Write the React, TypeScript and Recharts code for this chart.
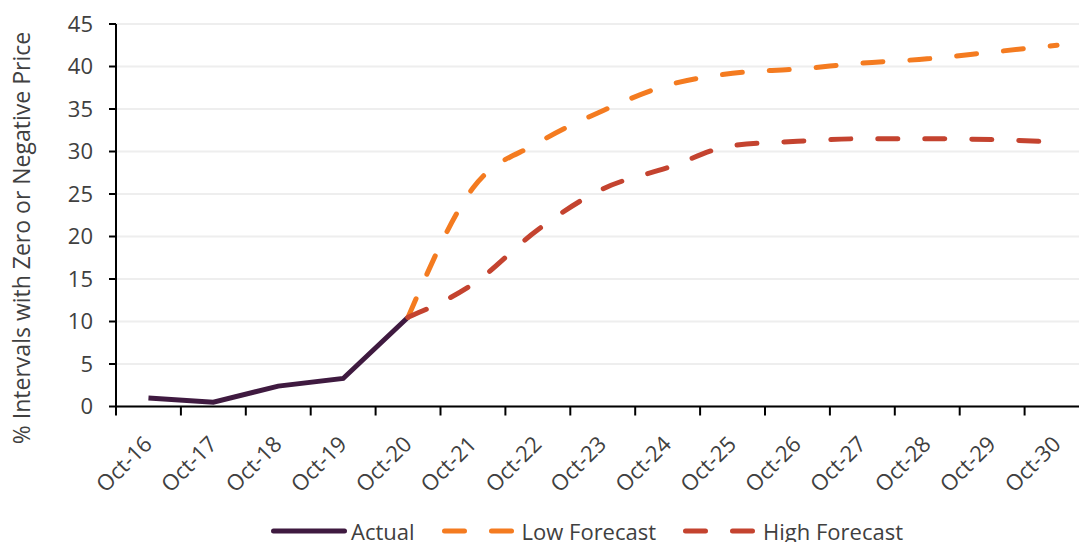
import React from "react";
import { CartesianGrid, Legend, Line, LineChart, XAxis, YAxis } from "recharts";

const categories = [
  "Oct-16", "Oct-17", "Oct-18", "Oct-19", "Oct-20", "Oct-21", "Oct-22", "Oct-23",
  "Oct-24", "Oct-25", "Oct-26", "Oct-27", "Oct-28", "Oct-29", "Oct-30",
];
const actual = [1.0, 0.5, 2.4, 3.3, 10.5, null, null, null, null, null, null, null, null, null, null];
const lowForecast = [null, null, null, null, 10.5, 25.7, 31.0, 34.8, 37.8, 39.2, 39.7, 40.4, 40.9, 41.7, 42.5];
const highForecast = [null, null, null, null, 10.5, 14.4, 20.8, 25.6, 28.1, 30.7, 31.2, 31.5, 31.5, 31.4, 31.1];
const yTicks = [0, 5, 10, 15, 20, 25, 30, 35, 40, 45];

const data = categories.map((name, i) => ({
  name,
  actual: actual[i],
  low: lowForecast[i],
  high: highForecast[i],
}));

const FONT = '"Open Sans", sans-serif';
const TEXT = "#404040";
const COLORS = { actual: "#3f1a40", low: "#f47b20", high: "#c4432f" };
const DASH = "20 27";

const W = 1100;
const H = 542;
const M = { top: 24, right: 10.5, left: 0, bottom: 0 };
const Y_W = 116;
const X_H = 135.5;
const BAND = (W - M.right - M.left - Y_W) / categories.length;

function XTick(props: any) {
  const { x, y, payload, index } = props;
  const tx = x + 5;
  const ty = y + 39;
  return (
    <g>
      <line x1={x - BAND / 2} x2={x - BAND / 2} y1={y} y2={y + 9} stroke="#000" strokeWidth={2} />
      {index === categories.length - 1 && (
        <line x1={x + BAND / 2} x2={x + BAND / 2} y1={y} y2={y + 9} stroke="#000" strokeWidth={2} />
      )}
      <text
        x={tx}
        y={ty}
        transform={`rotate(-45 ${tx} ${ty})`}
        textAnchor="end"
        fill={TEXT}
        fontSize={22}
        fontFamily={FONT}
      >
        {payload.value}
      </text>
    </g>
  );
}

const legendItems = [
  { key: "actual", label: "Actual", color: COLORS.actual, dash: undefined },
  { key: "low", label: "Low Forecast", color: COLORS.low, dash: DASH },
  { key: "high", label: "High Forecast", color: COLORS.high, dash: DASH },
];

function LegendContent() {
  return (
    <div style={{ display: "flex", alignItems: "center", fontFamily: FONT, fontSize: 22, color: TEXT, whiteSpace: "nowrap" }}>
      {legendItems.map((it) => (
        <div key={it.key} style={{ display: "flex", alignItems: "center", marginRight: 27 }}>
          <svg width={76} height={12} style={{ marginRight: 4 }}>
            <line
              x1={2.5}
              x2={73.5}
              y1={6}
              y2={6}
              stroke={it.color}
              strokeWidth={5}
              strokeLinecap="round"
              strokeDasharray={it.dash}
            />
          </svg>
          <span>{it.label}</span>
        </div>
      ))}
    </div>
  );
}

export default function App() {
  return (
    <div style={{ position: "absolute", left: 0, top: 0, width: 1079, height: 542, overflow: "hidden", background: "#fff" }}>
      <LineChart width={W} height={H} data={data} margin={M}>
        <CartesianGrid vertical={false} stroke="#eeeeee" strokeWidth={2} />
        <XAxis
          dataKey="name"
          height={X_H}
          padding={{ left: BAND / 2, right: BAND / 2 }}
          tickLine={false}
          tickSize={0}
          tickMargin={0}
          interval={0}
          axisLine={{ stroke: "#000", strokeWidth: 2 }}
          tick={<XTick />}
        />
        <YAxis
          width={Y_W}
          domain={[0, 45]}
          ticks={yTicks}
          interval={0}
          tickSize={7}
          tickMargin={16}
          tickLine={{ stroke: "#000", strokeWidth: 2 }}
          axisLine={{ stroke: "#000", strokeWidth: 2 }}
          tick={{ fill: TEXT, fontSize: 22, fontFamily: FONT }}
          label={{
            content: () => (
              <text
                x={30}
                y={238}
                transform="rotate(-90 30 238)"
                textAnchor="middle"
                fill={TEXT}
                fontSize={23}
                fontFamily={FONT}
              >
                % Intervals with Zero or Negative Price
              </text>
            ),
          }}
        />
        <Legend
          layout="horizontal"
          verticalAlign="middle"
          align="center"
          content={<LegendContent />}
          wrapperStyle={{ top: 516, left: 271, width: "auto" }}
        />
        <Line
          dataKey="actual"
          name="Actual"
          type="linear"
          stroke={COLORS.actual}
          strokeWidth={5}
          dot={false}
          activeDot={false}
          isAnimationActive={false}
        />
        <Line
          dataKey="low"
          name="Low Forecast"
          type="monotone"
          stroke={COLORS.low}
          strokeWidth={5}
          strokeDasharray={DASH}
          strokeLinecap="round"
          dot={false}
          activeDot={false}
          isAnimationActive={false}
        />
        <Line
          dataKey="high"
          name="High Forecast"
          type="monotone"
          stroke={COLORS.high}
          strokeWidth={5}
          strokeDasharray={DASH}
          strokeLinecap="round"
          dot={false}
          activeDot={false}
          isAnimationActive={false}
        />
      </LineChart>
    </div>
  );
}
